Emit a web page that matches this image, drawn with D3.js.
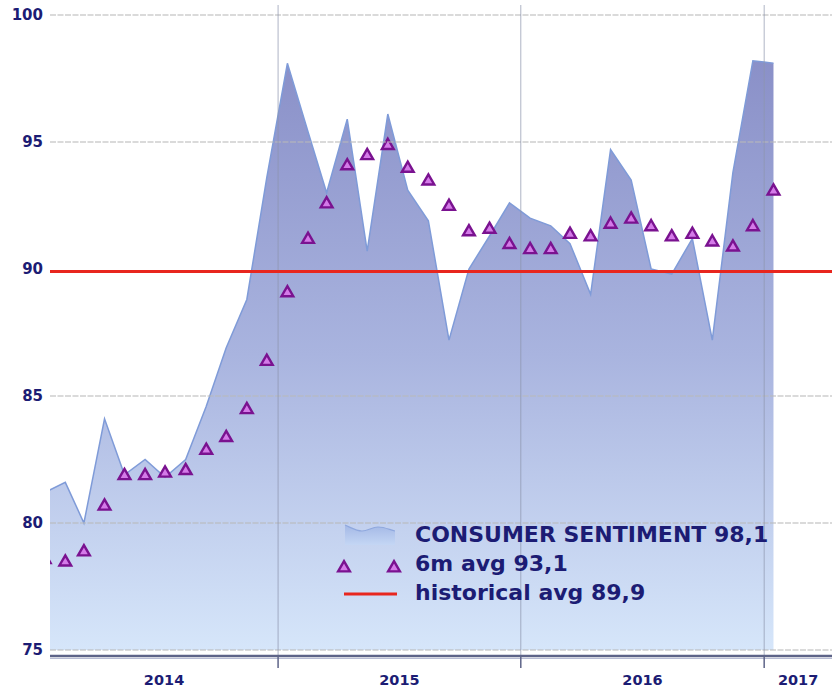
<!DOCTYPE html>
<html><head><meta charset="utf-8">
<script src="https://cdn.jsdelivr.net/npm/d3@7"></script>
<style>html,body{margin:0;padding:0;background:#fff;}svg{display:block;}</style>
</head><body>
<svg id="c" width="832" height="689"></svg>
<script>
const months = ["2014-01","2014-02","2014-03","2014-04","2014-05","2014-06","2014-07","2014-08","2014-09","2014-10","2014-11","2014-12",
"2015-01","2015-02","2015-03","2015-04","2015-05","2015-06","2015-07","2015-08","2015-09","2015-10","2015-11","2015-12",
"2016-01","2016-02","2016-03","2016-04","2016-05","2016-06","2016-07","2016-08","2016-09","2016-10","2016-11","2016-12","2017-01"];
const sentiment = [81.2,81.6,80.0,84.1,81.9,82.5,81.8,82.5,84.6,86.9,88.8,93.6,
98.1,95.4,93.0,95.9,90.7,96.1,93.1,91.9,87.2,90.0,91.3,92.6,
92.0,91.7,91.0,89.0,94.7,93.5,90.0,89.8,91.2,87.2,93.8,98.2,98.1];
const avg6 = [78.6,78.5,78.9,80.7,81.9,81.9,82.0,82.1,82.9,83.4,84.5,86.4,
89.1,91.2,92.6,94.1,94.5,94.9,94.0,93.5,92.5,91.5,91.6,91.0,
90.8,90.8,91.4,91.3,91.8,92.0,91.7,91.3,91.4,91.1,90.9,91.7,93.1];
const historicalAvg = 89.9;
const yTicks = [75,80,85,90,95,100];
const yearLabels = ["2014","2015","2016","2017"];
const legendLabels = ["CONSUMER SENTIMENT 98,1","6m avg 93,1","historical avg 89,9"];

const svg = d3.select("#c");
const L = 50, R = 832, T = 15, B = 650, AX = 656;
const parse = d3.utcParse("%Y-%m-%d");
const x = d3.scaleUtc().domain([parse("2014-01-23"), parse("2017-04-13")]).range([L, R]);
const y = d3.scaleLinear().domain([75, 100]).range([B, T]);
const dates = months.map(m => new Date(parse(m + "-01").getTime() + 14 * 864e5));

const defs = svg.append("defs");
const g1 = defs.append("linearGradient").attr("id","ag").attr("gradientUnits","userSpaceOnUse")
  .attr("x1",0).attr("y1",60).attr("x2",0).attr("y2",B);
g1.append("stop").attr("offset","0").attr("stop-color","#8a90c8");
g1.append("stop").attr("offset","0.5").attr("stop-color","#a9b4df");
g1.append("stop").attr("offset","1").attr("stop-color","#d6e6fa");
const g2 = defs.append("linearGradient").attr("id","lg").attr("x1",0).attr("y1",0).attr("x2",0).attr("y2",1);
g2.append("stop").attr("offset","0").attr("stop-color","#a4b8e6");
g2.append("stop").attr("offset","1").attr("stop-color","#c4d6f4");
defs.append("clipPath").attr("id","clip").append("rect").attr("x",L).attr("y",0).attr("width",R-L).attr("height",AX);

const plot = svg.append("g").attr("clip-path","url(#clip)");

// area
const area = d3.area().x((d,i)=>x(dates[i])).y0(y(75)).y1(d=>y(d));
plot.append("path").datum(sentiment).attr("d",area).attr("fill","url(#ag)");
const line = d3.line().x((d,i)=>x(dates[i])).y(d=>y(d));
plot.append("path").datum(sentiment).attr("d",line).attr("fill","none").attr("stroke","#7f9bd8").attr("stroke-width",1.5);

// horizontal grid
svg.append("g").selectAll("line").data(yTicks.filter(v=>v!==90)).join("line")
  .attr("x1",L).attr("x2",R).attr("y1",d=>y(d)).attr("y2",d=>y(d))
  .attr("stroke","#b8b8b8").attr("stroke-opacity",0.7).attr("stroke-width",1.5).attr("stroke-dasharray","6,1.5");

// vertical year lines
const yearBounds = [parse("2015-01-01"), parse("2016-01-01"), parse("2017-01-01")];
svg.append("g").selectAll("line").data(yearBounds).join("line")
  .attr("x1",d=>x(d)).attr("x2",d=>x(d)).attr("y1",5).attr("y2",AX)
  .attr("stroke","#8c94ac").attr("stroke-opacity",0.7).attr("stroke-width",1);

// red historical avg line
svg.append("line").attr("x1",L).attr("x2",R).attr("y1",y(historicalAvg)).attr("y2",y(historicalAvg))
  .attr("stroke","#e8261e").attr("stroke-width",3);

// triangles
const tri = d3.symbol().type(d3.symbolTriangle).size(60);
plot.append("g").selectAll("path").data(avg6).join("path")
  .attr("d",tri).attr("transform",(d,i)=>`translate(${x(dates[i])},${y(d)+1})`)
  .attr("fill","#d47ae8").attr("stroke","#7a1290").attr("stroke-width",2.4);

// x axis
svg.append("line").attr("x1",L).attr("x2",R).attr("y1",AX).attr("y2",AX).attr("stroke","#5e6488").attr("stroke-width",2.5);
svg.append("line").attr("x1",L).attr("x2",R).attr("y1",AX+2.5).attr("y2",AX+2.5).attr("stroke","#b8bcd4").attr("stroke-width",1);
svg.append("g").selectAll("line").data(yearBounds).join("line")
  .attr("x1",d=>x(d)).attr("x2",d=>x(d)).attr("y1",AX).attr("y2",AX+12)
  .attr("stroke","#5e6488").attr("stroke-width",1.5);
const yearStarts = yearLabels.map(s=>parse(s+"-01-01"));
svg.append("g").selectAll("text").data(yearLabels).join("text")
  .attr("x",(d,i)=>{const a=Math.max(L,x(yearStarts[i])); const b=Math.min(R,x(parse((+d+1)+"-01-01"))); return (a+b)/2;})
  .attr("y",685).attr("text-anchor","middle")
  .attr("font-family","DejaVu Sans").attr("font-weight","bold").attr("font-size",14.5).attr("fill","#1c1c74")
  .text(d=>d);

// y labels
svg.append("g").selectAll("text").data(yTicks).join("text")
  .attr("x",43).attr("y",d=>y(d)+5).attr("text-anchor","end")
  .attr("font-family","DejaVu Sans").attr("font-weight","bold").attr("font-size",15).attr("fill","#1c1c74")
  .text(d=>d);

// legend
const lg = svg.append("g");
lg.append("path").attr("d","M345,525 C352,528 356,531 362,531 C368,531 372,527 378,527 C385,527 390,530 395,531 L395,545 L345,545 Z")
  .attr("fill","url(#lg)");
lg.append("path").attr("d","M345,525 C352,528 356,531 362,531 C368,531 372,527 378,527 C385,527 390,530 395,531")
  .attr("fill","none").attr("stroke","#8fa8de").attr("stroke-width",1.2);
[344,394].forEach(cx=>lg.append("path").attr("d",tri).attr("transform",`translate(${cx},568)`)
  .attr("fill","#d47ae8").attr("stroke","#7a1290").attr("stroke-width",2.4));
lg.append("line").attr("x1",344).attr("x2",397).attr("y1",594).attr("y2",594).attr("stroke","#e8261e").attr("stroke-width",3);
lg.selectAll("text").data(legendLabels).join("text")
  .attr("x",415).attr("y",(d,i)=>[542,571,600][i])
  .attr("font-family","DejaVu Sans").attr("font-weight","bold").attr("font-size",22).attr("fill","#1c1c74")
  .text(d=>d);
</script>
</body></html>
